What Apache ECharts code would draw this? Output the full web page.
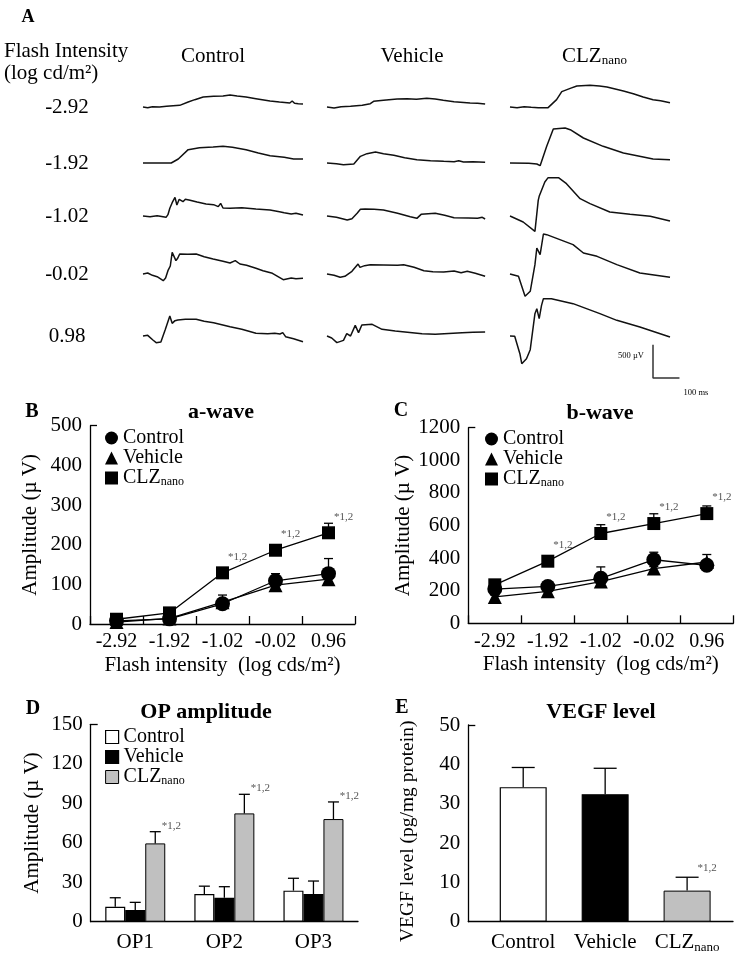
<!DOCTYPE html>
<html>
<head>
<meta charset="utf-8">
<script src="https://cdn.jsdelivr.net/npm/echarts@6/dist/echarts.min.js"></script>
<style>
html,body{margin:0;padding:0;background:#fff}
#main{width:743px;height:959px}
</style>
</head>
<body>
<div id="main"></div>
<script>
var FONT = '"Liberation Serif","Times New Roman",serif';

// ---- panel A: ERG traces, [ms, uV] ----
var ctlTrace1 = [[0,0],[10,-10],[20,5],[35,0],[50,10],[78,25],[96,75],[110,110],[128,150],[150,160],[170,165],[185,180],[200,165],[219,150],[240,125],[270,90],[290,75],[312,60],[317,90],[322,55],[330,50],[340,45]];
var ctlTrace2 = [[0,0],[60,0],[75,60],[96,200],[120,230],[149,240],[170,250],[190,235],[219,200],[245,150],[270,110],[300,85],[320,60],[340,60]];
var ctlTrace3 = [[0,0],[15,-10],[30,5],[49,-20],[53,20],[57,115],[62,200],[68,280],[72,165],[77,250],[81,265],[85,215],[90,250],[100,235],[115,210],[134,180],[150,170],[160,140],[165,190],[170,120],[185,115],[210,125],[240,105],[270,90],[290,65],[300,50],[315,30],[325,40],[340,15]];
var ctlTrace4 = [[0,0],[10,15],[20,-20],[30,-40],[43,-100],[48,-60],[53,50],[58,120],[62,325],[66,300],[70,200],[74,240],[78,300],[95,295],[113,300],[130,260],[149,225],[170,190],[185,165],[196,200],[206,150],[220,130],[240,85],[255,50],[275,10],[298,-85],[315,-60],[325,-70],[340,-65]];
var ctlTrace5 = [[0,0],[10,10],[21,-60],[28,-100],[38,-90],[47,90],[51,65],[57,300],[62,190],[68,230],[74,240],[90,250],[113,250],[130,220],[150,200],[185,140],[210,100],[240,40],[265,35],[280,40],[291,30],[297,50],[303,-10],[320,-40],[340,-85]];

var vehTrace1 = [[0,0],[15,-15],[30,5],[50,10],[75,25],[92,50],[99,85],[120,100],[149,120],[170,125],[190,115],[212,130],[230,120],[247,100],[270,80],[304,60],[320,55],[336,45]];
var vehTrace2 = [[0,0],[20,-10],[35,-25],[57,-15],[71,100],[85,140],[103,165],[120,140],[142,115],[165,80],[191,50],[220,35],[248,25],[270,20],[280,35],[290,15],[310,20],[336,10]];
var vehTrace3 = [[0,0],[20,-20],[43,-60],[53,-40],[64,40],[71,100],[75,75],[81,105],[100,100],[120,90],[150,40],[177,-10],[191,-35],[200,25],[230,40],[250,10],[270,-25],[300,-30],[320,-35],[330,-20],[336,-45]];
var vehTrace4 = [[0,0],[15,-20],[28,-50],[38,-35],[53,40],[57,30],[66,150],[70,100],[80,125],[92,140],[120,135],[150,130],[163,140],[185,100],[206,50],[225,35],[248,30],[270,45],[285,20],[298,40],[315,10],[336,-35]];
var vehTrace5 = [[0,0],[10,-30],[21,-100],[35,-65],[42,35],[50,0],[60,160],[67,50],[74,165],[96,175],[117,100],[145,75],[202,35],[230,25],[287,50],[310,55],[336,60]];

var clzTrace1 = [[0,0],[15,-10],[30,5],[45,-5],[60,-10],[81,-10],[99,110],[110,230],[128,280],[142,315],[170,325],[190,315],[206,300],[241,240],[262,200],[283,150],[304,110],[320,95],[340,65]];
var clzTrace2 = [[0,0],[40,-5],[57,-15],[64,-40],[78,250],[92,510],[117,525],[128,500],[156,375],[198,250],[241,150],[270,110],[304,60],[340,50]];
var clzTrace3 = [[0,0],[28,-90],[53,-230],[60,235],[62,295],[65,285],[74,510],[81,575],[103,575],[120,485],[149,260],[170,185],[212,60],[255,25],[298,-5],[340,-75]];
var clzTrace4 = [[0,0],[18,-35],[32,-335],[43,-260],[53,140],[57,390],[64,290],[71,600],[78,590],[134,440],[156,315],[185,265],[227,140],[276,15],[340,-50]];
var clzTrace5 = [[0,0],[10,-5],[21,-265],[25,-415],[35,-340],[43,-205],[53,335],[57,410],[62,260],[67,460],[71,560],[88,560],[134,485],[191,335],[227,235],[276,135],[340,-15]];

var intensityLabels = ['-2.92', '-1.92', '-1.02', '-0.02', '0.98'];
var scaleBar = [[0,500],[0,0],[100,0]];   // 500 uV / 100 ms

// ---- panel B / C ----
var flashCats = ['-2.92', '-1.92', '-1.02', '-0.02', '0.96'];
var bCtl = [8, 13, 51, 109, 127];
var bCtlSd = [3, 3, 22, 18, 38];
var bVeh = [5, 14, 55, 98, 113];
var bVehSd = [3, 3, 8, 8, 8];
var bClz = [12, 28, 129, 186, 230];
var bClzSd = [3, 3, 5, 6, 24];
var bStar = [0, 0, 1, 1, 1];

var cCtl = [210, 226, 276, 390, 356];
var cCtlSd = [10, 12, 70, 46, 15];
var cVeh = [162, 196, 256, 336, 376];
var cVehSd = [10, 10, 10, 12, 46];
var cClz = [236, 381, 551, 612, 673];
var cClzSd = [10, 14, 54, 60, 47];
var cStar = [0, 1, 1, 1, 1];

// ---- panel D ----
var opCats = ['OP1', 'OP2', 'OP3'];
var dCtl = [11.4, 21, 23.6];
var dCtlSd = [6.8, 6, 9.4];
var dVeh = [8.9, 18.2, 21];
var dVehSd = [5.8, 8.4, 9.9];
var dClz = [59.5, 82.3, 78];
var dClzSd = [8.9, 14.5, 13];
var dStar = [1, 1, 1];

// ---- panel E ----
var vegfCats = ['Control', 'Vehicle', 'CLZnano'];
var vegfVal = [34.2, 32.4, 7.9];
var vegfSd = [5, 6.6, 3.4];
var vegfStar = [0, 0, 1];

function nameFmt(n) {
	return n === 'CLZnano' ? '{m|CLZ}{s|nano}' : n;
}
function subRich(size) {
	return {
		m: {fontFamily: FONT, fontSize: size, color: '#000'},
		s: {fontFamily: FONT, fontSize: Math.round(size * 0.6), color: '#000', verticalAlign: 'bottom', padding: [Math.round(size * 0.45), 0, 0, 0]}
	};
}

var grids = [], xAxes = [], yAxes = [], series = [];

function addGrid(g, xa, ya) {
	grids.push(g);
	xa.gridIndex = grids.length - 1;
	ya.gridIndex = grids.length - 1;
	xAxes.push(xa);
	yAxes.push(ya);
	return grids.length - 1;
}

// trace grids
var colLeft = [143, 327, 510];
var rowBase = [107, 163, 216, 274, 336];
var traces = [
	[ctlTrace1, ctlTrace2, ctlTrace3, ctlTrace4, ctlTrace5],
	[vehTrace1, vehTrace2, vehTrace3, vehTrace4, vehTrace5],
	[clzTrace1, clzTrace2, clzTrace3, clzTrace4, clzTrace5]
];
var T_MIN = -450, T_MAX = 650, UV_PER_PX = 15;
function traceAxes() {
	return [
		{type: 'value', min: 0, max: 340, show: false},
		{type: 'value', min: T_MIN, max: T_MAX, show: false}
	];
}
for (var c = 0; c < 3; c++) {
	for (var r = 0; r < 5; r++) {
		var ax = traceAxes();
		var gi = addGrid({left: colLeft[c], width: 160, top: rowBase[r] - T_MAX / UV_PER_PX, height: (T_MAX - T_MIN) / UV_PER_PX}, ax[0], ax[1]);
		series.push({type: 'line', xAxisIndex: gi, yAxisIndex: gi, data: traces[c][r], symbol: 'none',
			lineStyle: {color: '#111', width: 1.5}, silent: true});
	}
}
// scale bar uses the same scale as the traces
(function () {
	var ax = traceAxes();
	var gi = addGrid({left: 653, width: 160, top: 378 - T_MAX / UV_PER_PX, height: (T_MAX - T_MIN) / UV_PER_PX}, ax[0], ax[1]);
	series.push({type: 'line', xAxisIndex: gi, yAxisIndex: gi, data: scaleBar, symbol: 'none',
		lineStyle: {color: '#333', width: 1.5}, silent: true});
})();

function valueAxis(min, max, interval, name, gap, nameSize, namePad) {
	return {
		type: 'value', min: min, max: max, interval: interval,
		name: name, nameLocation: 'middle', nameGap: gap, nameRotate: 90,
		nameTextStyle: {fontFamily: FONT, fontSize: nameSize || 21, color: '#000', padding: namePad || 0},
		axisLine: {show: true, onZero: false, lineStyle: {color: '#000', width: 1.3}},
		axisTick: {show: true, inside: true, length: 7, customValues: [max], lineStyle: {color: '#000', width: 1.3}},
		axisLabel: {fontFamily: FONT, fontSize: 21, color: '#000', margin: 8, formatter: function (v) { return String(v); }},
		splitLine: {show: false}
	};
}
function flashAxis() {
	return {
		type: 'category', data: flashCats, boundaryGap: true,
		name: 'Flash intensity  (log cds/m\u00b2)', nameLocation: 'middle', nameGap: 31,
		nameTextStyle: {fontFamily: FONT, fontSize: 21, color: '#000'},
		axisLine: {lineStyle: {color: '#000', width: 1.3}},
		axisTick: {show: true, inside: true, length: 8, interval: 0, lineStyle: {color: '#000', width: 1.3}},
		axisLabel: {fontFamily: FONT, fontSize: 20, color: '#000', margin: 8, interval: 0}
	};
}

// error bar (+ optional significance mark) as a custom series
function errSeries(gi, means, sds, stars, opt) {
	return {
		type: 'custom', xAxisIndex: gi, yAxisIndex: gi, z: opt.z || 2, silent: true,
		data: means.map(function (m, i) { return [i, m, m + sds[i], stars ? stars[i] : 0]; }),
		renderItem: function (params, api) {
			var p0 = api.coord([api.value(0), api.value(1)]);
			var p1 = api.coord([api.value(0), api.value(2)]);
			var x = p0[0] + (opt.offset || 0);
			var cw = opt.cap / 2;
			var kids = [
				{type: 'line', shape: {x1: x, y1: p0[1], x2: x, y2: p1[1]}, style: {stroke: '#000', lineWidth: 1.3}},
				{type: 'line', shape: {x1: x - cw, y1: p1[1], x2: x + cw, y2: p1[1]}, style: {stroke: '#000', lineWidth: 1.3}}
			];
			if (api.value(3)) {
				var anchor = opt.fromPoint ? p0 : p1;
				kids.push({type: 'text', x: x + opt.dx, y: anchor[1] + opt.dy,
					style: {text: '*1,2', fill: '#555', font: '11px ' + FONT, align: 'center', verticalAlign: 'middle'}});
			}
			return {type: 'group', children: kids};
		}
	};
}

function lineGroup(gi, ctl, ctlSd, veh, vehSd, clz, clzSd, stars) {
	var starOpt = {cap: 9, fromPoint: true, dx: 15, dy: -16};
	series.push(errSeries(gi, ctl, ctlSd, null, {cap: 9}));
	series.push(errSeries(gi, veh, vehSd, null, {cap: 9}));
	series.push(errSeries(gi, clz, clzSd, stars, starOpt));
	var common = {type: 'line', xAxisIndex: gi, yAxisIndex: gi, lineStyle: {color: '#000', width: 1.3},
		itemStyle: {color: '#000'}, z: 3};
	series.push(Object.assign({}, common, {name: 'Control', data: ctl, symbol: 'circle', symbolSize: 15}));
	series.push(Object.assign({}, common, {name: 'Vehicle', data: veh, symbol: 'triangle', symbolSize: 14}));
	series.push(Object.assign({}, common, {name: 'CLZnano', data: clz, symbol: 'rect', symbolSize: 13}));
}

// B
var gB = addGrid({left: 90, top: 425.7, width: 265, height: 198.3}, flashAxis(), valueAxis(0, 500, 100, 'Amplitude (\u00b5 V)', 49));
lineGroup(gB, bCtl, bCtlSd, bVeh, bVehSd, bClz, bClzSd, bStar);
// C
var gC = addGrid({left: 468.3, top: 427.7, width: 265, height: 195.6}, flashAxis(), valueAxis(0, 1200, 200, 'Amplitude (\u00b5 V)', 48));
lineGroup(gC, cCtl, cCtlSd, cVeh, cVehSd, cClz, cClzSd, cStar);

// D
var barStyles = [
	{color: '#fff', borderColor: '#000', borderWidth: 1.2},
	{color: '#000', borderColor: '#000', borderWidth: 1.2},
	{color: '#c0c0c0', borderColor: '#000', borderWidth: 1}
];
var gD = addGrid({left: 90.7, top: 724.3, width: 267.3, height: 197.4},
	{type: 'category', data: opCats,
		axisLine: {lineStyle: {color: '#000', width: 1.3}}, axisTick: {show: false},
		axisLabel: {fontFamily: FONT, fontSize: 21, color: '#000', margin: 10}},
	valueAxis(0, 150, 30, 'Amplitude (\u00b5 V)', 48));
var dSets = [['Control', dCtl, dCtlSd, null], ['Vehicle', dVeh, dVehSd, null], ['CLZnano', dClz, dClzSd, dStar]];
dSets.forEach(function (s, k) {
	series.push({type: 'bar', name: s[0], xAxisIndex: gD, yAxisIndex: gD, data: s[1], barWidth: 20, barGap: '0%',
		itemStyle: barStyles[k], z: 2});
});
dSets.forEach(function (s, k) {
	series.push(errSeries(gD, s[1], s[2], s[3], {cap: 11, offset: (k - 1) * 20, dx: 16, dy: -6, z: 3}));
});

// E
var gE = addGrid({left: 468.3, top: 725, width: 264.7, height: 196.7},
	{type: 'value', min: -0.67, max: 2.56,
		axisLine: {show: true, onZero: false, lineStyle: {color: '#000', width: 1.3}}, axisTick: {show: false},
		splitLine: {show: false},
		axisLabel: {customValues: [0, 1, 2], fontFamily: FONT, fontSize: 21, color: '#000', margin: 10,
			formatter: function (v) { return nameFmt(vegfCats[Math.round(v)]); }, rich: subRich(21)}},
	valueAxis(0, 50, 10, 'VEGF level (pg/mg protein)', 50, 19.5, [0, 16, 0, 0]));
series.push({type: 'bar', xAxisIndex: gE, yAxisIndex: gE, barWidth: 47, z: 2,
	data: vegfVal.map(function (v, i) { return {value: [i, v], itemStyle: barStyles[i]}; })});
series.push(errSeries(gE, vegfVal, vegfSd, vegfStar, {cap: 23, dx: 20, dy: -9, z: 3}));

// legends
function legendData(icons, styles) {
	return ['Control', 'Vehicle', 'CLZnano'].map(function (n, i) {
		return {name: n, icon: icons[i], itemStyle: styles[i]};
	});
}
var blackMarks = [{color: '#000'}, {color: '#000'}, {color: '#000'}];
function legendAt(left, top, icons, styles) {
	return {
		left: left, top: top, orient: 'vertical', itemWidth: 13, itemHeight: 13, itemGap: 0,
		selectedMode: false, padding: 0,
		data: legendData(icons, styles),
		formatter: nameFmt,
		textStyle: {fontFamily: FONT, fontSize: 20, color: '#000', lineHeight: 19.5, rich: subRich(20)}
	};
}

// panel A text + panel letters and titles
var graphics = [];
function txt(x, y, text, size, opt) {
	opt = opt || {};
	graphics.push({type: 'text', x: x, y: y, silent: true,
		style: {text: text, font: (opt.bold ? 'bold ' : '') + size + 'px ' + FONT, fill: '#000',
			align: opt.align || 'center', verticalAlign: 'middle', rich: opt.rich}});
}
txt(28, 17, 'A', 18, {bold: true});
txt(4, 51, 'Flash Intensity', 21, {align: 'left'});
txt(4, 73, '(log cd/m\u00b2)', 21, {align: 'left'});
intensityLabels.forEach(function (l, i) { txt(67, rowBase[i], l, 21); });
txt(213, 56, 'Control', 21);
txt(412, 56, 'Vehicle', 21);
txt(562, 56, '{m|CLZ}{s|nano}', 21, {align: 'left', rich: subRich(21)});
txt(644, 356, '500 \u00b5V', 8.5, {align: 'right'});
txt(696, 393, '100 ms', 8.5);

txt(32, 412, 'B', 20, {bold: true});
txt(221, 412, 'a-wave', 22, {bold: true});
txt(401, 411, 'C', 20, {bold: true});
txt(600, 413, 'b-wave', 22, {bold: true});
txt(33, 709, 'D', 20, {bold: true});
txt(206, 712, 'OP amplitude', 22, {bold: true});
txt(402, 708, 'E', 20, {bold: true});
txt(601, 712, 'VEGF level', 22, {bold: true});

var chart = echarts.init(document.getElementById('main'), null, {renderer: 'canvas'});
chart.setOption({
	animation: false,
	backgroundColor: '#fff',
	grid: grids,
	xAxis: xAxes,
	yAxis: yAxes,
	legend: [
		legendAt(105, 428, ['circle', 'triangle', 'rect'], blackMarks),
		legendAt(485, 429, ['circle', 'triangle', 'rect'], blackMarks),
		legendAt(105, 727, ['rect', 'rect', 'rect'], barStyles)
	],
	graphic: graphics,
	series: series
});
</script>
</body>
</html>
